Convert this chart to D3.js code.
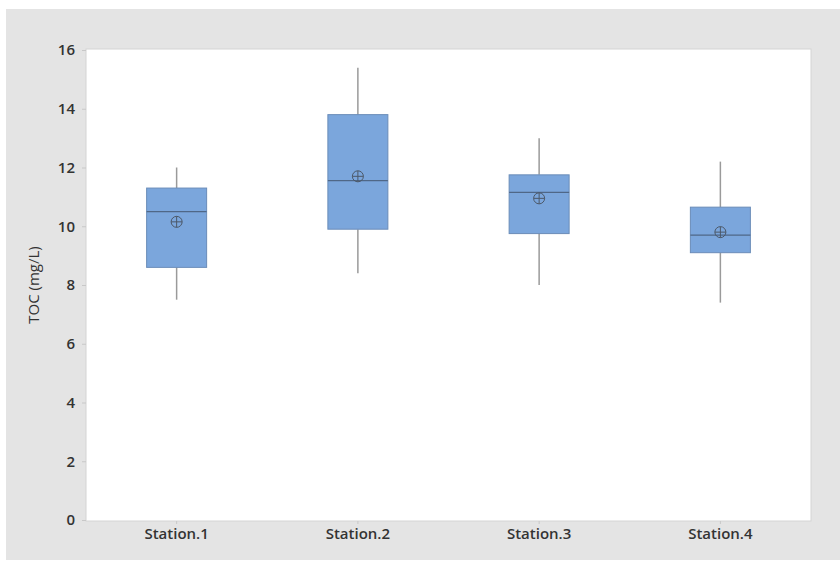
<!DOCTYPE html>
<html>
<head>
<meta charset="utf-8">
<script src="https://cdn.jsdelivr.net/npm/d3@7"></script>
<style>
  body { margin: 0; background: #fff; }
  svg { display: block; }
  .tick text { font-family: "Open Sans", sans-serif; font-size: 15px; font-weight: 600; fill: #333; }
  .tick line { stroke: #c8c8c8; }
  .domain { display: none; }
</style>
</head>
<body>
<script>
'use strict';
const stations = ['Station.1', 'Station.2', 'Station.3', 'Station.4'];
const whiskerLow = [7.5, 8.4, 8.0, 7.4];
const q1 = [8.6, 9.9, 9.75, 9.1];
const median = [10.5, 11.55, 11.15, 9.7];
const q3 = [11.3, 13.8, 11.75, 10.65];
const whiskerHigh = [12.0, 15.4, 13.0, 12.2];
const means = [10.15, 11.7, 10.95, 9.8];
const yTicks = [0, 2, 4, 6, 8, 10, 12, 14, 16];

const W = 840, H = 563;
const plot = {left: 86, right: 811, top: 49, bottom: 521};

const svg = d3.select(document.body).append('svg')
  .attr('width', W).attr('height', H);

// 회색 바깥 배경
svg.append('rect')
  .attr('x', 6).attr('y', 9).attr('width', W - 6).attr('height', 551)
  .attr('fill', '#e4e4e4');

// 흰색 플롯 영역
svg.append('rect')
  .attr('x', plot.left).attr('y', plot.top)
  .attr('width', plot.right - plot.left).attr('height', plot.bottom - plot.top)
  .attr('fill', '#fff').attr('stroke', '#d4d4d4').attr('stroke-width', 1);

const x = d3.scaleBand().domain(stations).range([plot.left, plot.right]);
const y = d3.scaleLinear().domain([0, 16]).range([plot.bottom - 1, plot.top + 1]);

// y축
svg.append('g')
  .attr('transform', `translate(${plot.left}, 0)`)
  .call(d3.axisLeft(y).tickValues(yTicks).tickSize(4).tickPadding(7));

// x축
svg.append('g')
  .attr('transform', `translate(0, ${plot.bottom})`)
  .call(d3.axisBottom(x).tickSize(3).tickPadding(4));

svg.append('text')
  .attr('transform', `translate(39, ${(plot.top + plot.bottom) / 2}) rotate(-90)`)
  .attr('text-anchor', 'middle')
  .style('font-family', '"Open Sans", sans-serif')
  .style('font-size', '15px')
  .style('fill', '#333')
  .text('TOC (mg/L)');

const boxW = 60;
const rows = stations.map((s, i) => ({
  s, lo: whiskerLow[i], q1: q1[i], med: median[i], q3: q3[i], hi: whiskerHigh[i], mean: means[i]
}));

const g = svg.append('g').selectAll('g').data(rows).enter().append('g')
  .attr('transform', d => `translate(${x(d.s) + x.bandwidth() / 2}, 0)`);

// 수염
g.append('line')
  .attr('x1', 0).attr('x2', 0)
  .attr('y1', d => y(d.hi)).attr('y2', d => y(d.q3))
  .attr('stroke', '#9a9a9a').attr('stroke-width', 1.5);
g.append('line')
  .attr('x1', 0).attr('x2', 0)
  .attr('y1', d => y(d.q1)).attr('y2', d => y(d.lo))
  .attr('stroke', '#9a9a9a').attr('stroke-width', 1.5);

// 상자
g.append('rect')
  .attr('x', -boxW / 2).attr('width', boxW)
  .attr('y', d => y(d.q3)).attr('height', d => y(d.q1) - y(d.q3))
  .attr('fill', '#7ba6dc').attr('stroke', '#6a8cb8').attr('stroke-width', 1);

// 중앙값
g.append('line')
  .attr('x1', -boxW / 2).attr('x2', boxW / 2)
  .attr('y1', d => y(d.med)).attr('y2', d => y(d.med))
  .attr('stroke', '#4f6787').attr('stroke-width', 1.2);

// 평균 기호 (원 + 십자)
const m = g.append('g').attr('transform', d => `translate(0, ${y(d.mean)})`)
  .attr('stroke', '#4c5868').attr('stroke-width', 1).attr('fill', 'none');
m.append('circle').attr('r', 5.5);
m.append('line').attr('x1', -5.5).attr('x2', 5.5);
m.append('line').attr('y1', -5.5).attr('y2', 5.5);
</script>
</body>
</html>
